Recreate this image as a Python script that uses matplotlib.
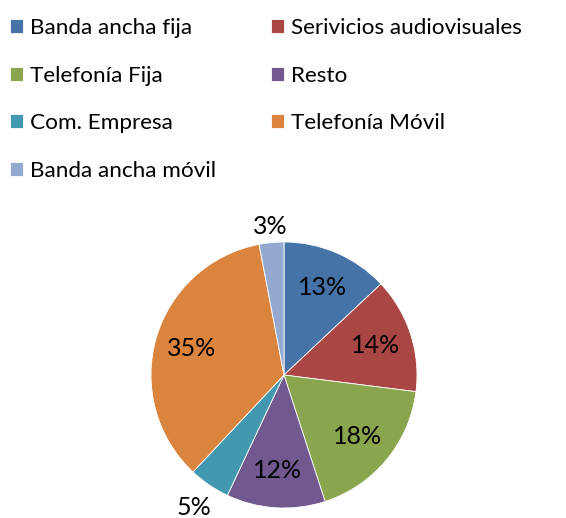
import matplotlib.pyplot as plt
import numpy as np

labels = ['Banda ancha fija', 'Serivicios audiovisuales', 'Telefonía Fija', 'Resto',
          'Com. Empresa', 'Telefonía Móvil', 'Banda ancha móvil']
values = [13, 14, 18, 12, 5, 35, 3]
colors = ['#4572A7', '#AA4643', '#89A54E', '#71588F', '#4198AF', '#DB843D', '#93A9CF']

plt.rcParams['font.family'] = ['Lato', 'DejaVu Sans']

fig = plt.figure(figsize=(5.66, 5.18), dpi=100)
cx, cy, r = 284, 375, 133
ax = fig.add_axes([(cx - r) / 566, (518 - cy - r) / 518, 2 * r / 566, 2 * r / 518])

wedges, texts, autotexts = ax.pie(values, colors=colors, startangle=90, counterclock=False,
                                  autopct='%d%%', pctdistance=0.72, radius=1,
                                  wedgeprops=dict(linewidth=0.6, edgecolor='white'),
                                  textprops=dict(fontsize=18, color='black'))
ax.set_xlim(-1, 1)
ax.set_ylim(-1, 1)
ax.set_aspect('equal')

# small slices get their labels outside
outside = {4: 1.20, 6: 1.12}
for i, dist in outside.items():
    w = wedges[i]
    ang = np.deg2rad((w.theta1 + w.theta2) / 2)
    autotexts[i].set_position((dist * np.cos(ang), dist * np.sin(ang)))

# legend laid out row by row in two columns
order = [0, 2, 4, 6, 1, 3, 5]
fig.legend([wedges[i] for i in order], [labels[i] for i in order],
           ncol=2, loc='upper left', bbox_to_anchor=(0.002, 0.982),
           frameon=False, fontsize=16.2, handlelength=0.58, handleheight=0.58,
           handletextpad=0.31, labelspacing=1.22, columnspacing=2.44,
           borderaxespad=0)

plt.savefig('out.png', dpi=100)
